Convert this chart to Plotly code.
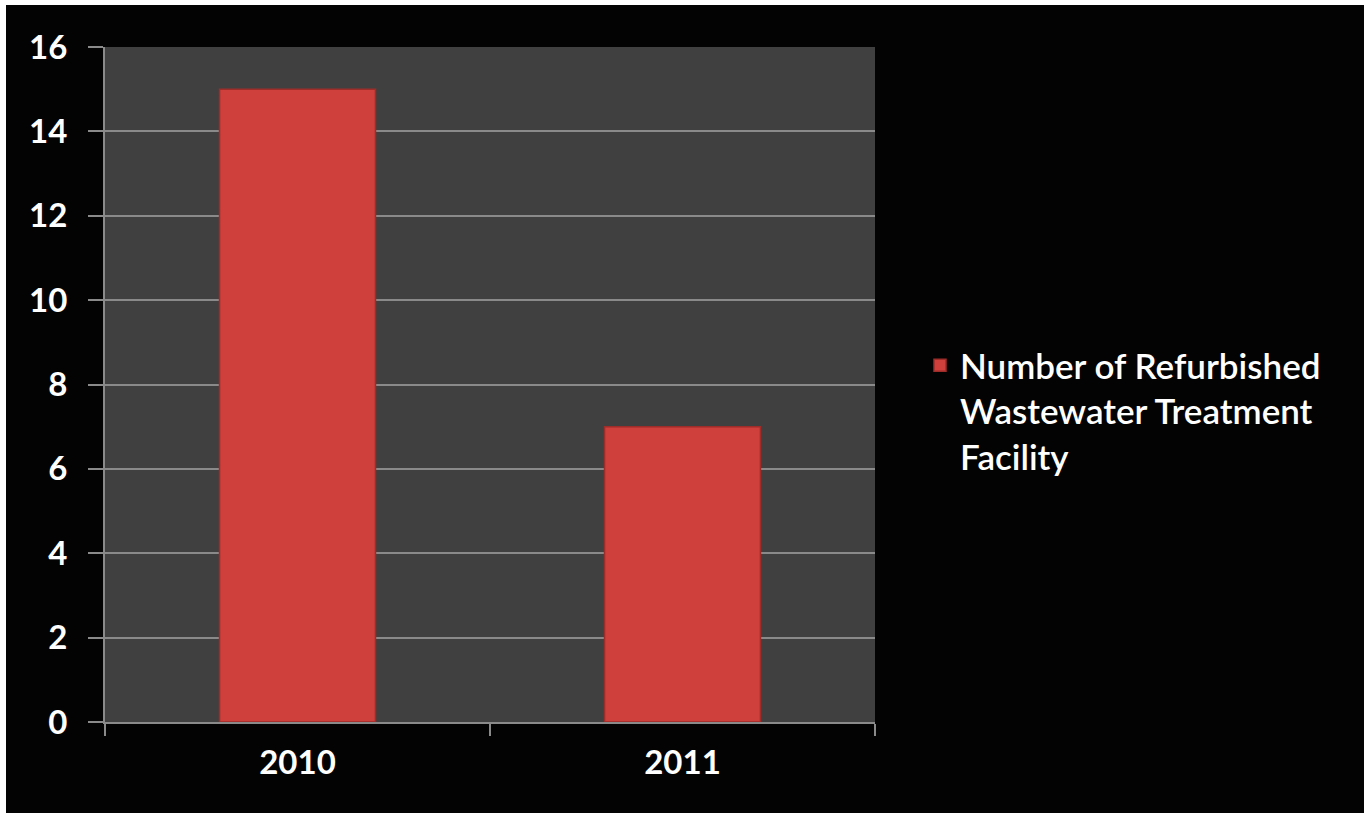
import plotly.graph_objects as go

# Refurbished wastewater treatment facilities per year
years = ["2010", "2011"]
facilities = [15, 7]
series_name = "Number of Refurbished<br>Wastewater Treatment<br>Facility"
y_ticks = [0, 2, 4, 6, 8, 10, 12, 14, 16]

W, H = 1364, 813
ML, MR, MT, MB = 105, 489, 47, 91
PW, PH = W - ML - MR, H - MT - MB

fig = go.Figure()
fig.add_trace(go.Bar(
    x=years,
    y=facilities,
    name=series_name,
    width=0.405,
    marker=dict(color="#CF3F3B", line=dict(color="#9E2D2A", width=1.5)),
    showlegend=True,
))

# white frame strips along the top and left edges of the canvas
fig.add_shape(type="rect", xref="paper", yref="paper",
              x0=-ML / PW, x1=(6 - ML) / PW, y0=-MB / PH, y1=1 + MT / PH,
              fillcolor="white", line_width=0, layer="above")
fig.add_shape(type="rect", xref="paper", yref="paper",
              x0=-ML / PW, x1=1 + MR / PW, y0=1 + (MT - 5) / PH, y1=1 + MT / PH,
              fillcolor="white", line_width=0, layer="above")

fig.update_layout(
    width=W, height=H,
    margin=dict(l=ML, r=MR, t=MT, b=MB, pad=0),
    paper_bgcolor="#030303",
    plot_bgcolor="#404040",
    font=dict(family="Lato", color="white"),
    legend=dict(
        x=(920 - ML) / PW, y=(MT + PH - 336) / PH,
        xanchor="left", yanchor="top",
        font=dict(family="Lato", size=35, color="white", weight=600),
        valign="top",
        bgcolor="rgba(0,0,0,0)",
    ),
    xaxis=dict(
        range=[-0.5, 1.5],
        showline=True, linecolor="#8a8a8a", linewidth=2,
        ticks="outside", ticklen=12, tickcolor="#8a8a8a", tickwidth=2,
        tickson="boundaries",
        showgrid=False,
        tickfont=dict(family="Lato", size=33, color="white", weight="bold"),
        ticklabelstandoff=10,
    ),
    yaxis=dict(
        range=[0, 16],
        tickvals=y_ticks,
        showline=True, linecolor="#8a8a8a", linewidth=2,
        ticks="outside", ticklen=15, tickcolor="#8a8a8a", tickwidth=2,
        showgrid=True, gridcolor="#8a8a8a", gridwidth=1.5,
        zeroline=False,
        tickfont=dict(family="Lato", size=33, color="white", weight="bold"),
        ticklabelstandoff=14,
    ),
)

fig.write_html("out.html")
